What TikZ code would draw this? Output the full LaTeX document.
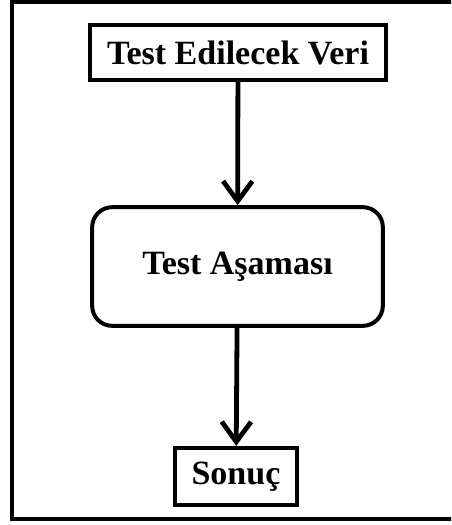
\documentclass[tikz,border=0pt]{standalone}
\usepackage{fontspec}
\setmainfont{Liberation Serif}
\usepackage{tikz}
\usetikzlibrary{arrows.meta}

\tikzset{
  stepbox/.style={draw, line width=3pt, fill=white, inner sep=0pt,
    font=\fontsize{25.5}{30}\selectfont\bfseries},
  flow/.style={-{Straight Barb[length=15pt,width=22pt]}, line width=3.6pt},
}

\begin{document}
\begin{tikzpicture}[x=0.75pt,y=-0.75pt]
\useasboundingbox (0,0) rectangle (451,525);
\clip (0,0) rectangle (451,525);
% outer frame, its right side lies past the page
\draw[line width=3pt] (12,1.5) rectangle (470,519);

\node (veri) at (238,52.5) [stepbox, minimum width=222pt, minimum height=41pt] {Test Edilecek Veri};
\node (asama) at (237.5,266.5) [stepbox, rounded corners=15pt, minimum width=218pt, minimum height=89pt] {Test Aşaması};
\node (sonuc) at (236,476.5) [stepbox, minimum width=91.5pt, minimum height=43pt] {Sonuç};

\draw[flow] (veri) -- (asama);
\draw[flow] (asama) -- (sonuc);
\end{tikzpicture}
\end{document}
